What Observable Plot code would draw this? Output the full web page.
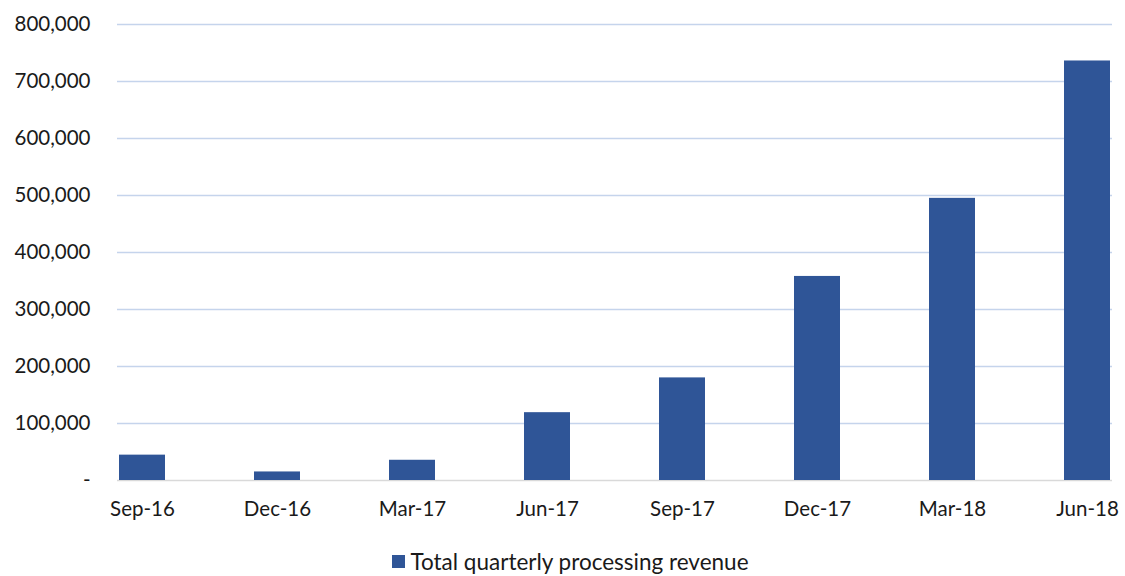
<!DOCTYPE html>
<html>
<head>
<meta charset="utf-8">
<script src="https://cdn.jsdelivr.net/npm/d3@7"></script>
<script src="https://cdn.jsdelivr.net/npm/@observablehq/plot@0.6"></script>
<style>
  body { margin: 0; background: #fff; font-family: Lato, "Open Sans", sans-serif; }
  #legend { display: flex; justify-content: center; align-items: center; font-size: 22.5px; color: #1a1a1a; margin-top: 18px; padding-left: 16px; }
  #legend .sw { width: 13px; height: 13px; background: #2F5597; margin-right: 5px; }
</style>
</head>
<body>
<div id="chart"></div>
<div id="legend"><span class="sw"></span><span>Total quarterly processing revenue</span></div>
<script>
const quarters = ["Sep-16", "Dec-16", "Mar-17", "Jun-17", "Sep-17", "Dec-17", "Mar-18", "Jun-18"];
const revenue = [44500, 15000, 35500, 119000, 180000, 358000, 495000, 736000];
const yTicks = [0, 100000, 200000, 300000, 400000, 500000, 600000, 700000, 800000];

const data = quarters.map((q, i) => ({quarter: q, value: revenue[i]}));
const fmt = d3.format(",");

const plot = Plot.plot({
  width: 1125,
  height: 530,
  marginTop: 24,
  marginBottom: 50,
  marginLeft: 117,
  marginRight: 13,
  style: {fontFamily: "Lato, 'Open Sans', sans-serif", fontSize: "20.5px", color: "#1a1a1a", background: "#fff"},
  x: {domain: quarters, paddingInner: 0.66, paddingOuter: 0, label: null},
  y: {domain: [0, 800000], label: null},
  marks: [
    Plot.ruleY(yTicks.filter(d => d > 0), {stroke: "#c5d4ec", strokeWidth: 1.5}),
    Plot.ruleY([0], {stroke: "#d9d9d9", strokeWidth: 1.5}),
    Plot.barY(data, {x: "quarter", y: "value", fill: "#2F5597", style: {filter: "drop-shadow(1px 1px 2px rgba(0,0,0,0.35))"}}),
    Plot.axisY({ticks: yTicks, tickSize: 0, tickPadding: 27, tickFormat: d => d === 0 ? "-" : fmt(d), label: null}),
    Plot.axisX({tickSize: 0, tickPadding: 21, label: null})
  ]
});
document.getElementById("chart").appendChild(plot);
</script>
</body>
</html>
